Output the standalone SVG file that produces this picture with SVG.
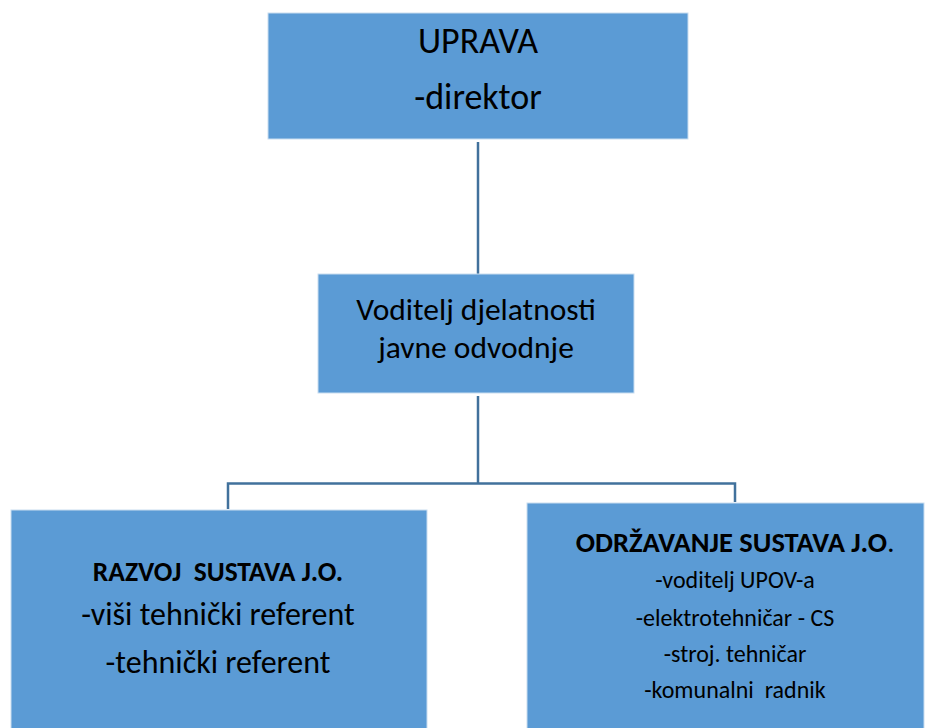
<svg xmlns="http://www.w3.org/2000/svg" width="927" height="728" viewBox="0 0 927 728">
<style>
.box{fill:#5B9BD5;stroke:#C9DDF0;stroke-width:1}
.t{font-family:Carlito,Calibri,Lato,"Liberation Sans",sans-serif;fill:#000;text-anchor:middle}
.b{font-weight:bold}
.conn{fill:none;stroke:#41719C;stroke-width:2.5}
</style>
<rect width="927" height="728" fill="#fff"/>
<g id="connectors">
<path class="conn" d="M478,142 V275"/>
<path class="conn" d="M478,396 V483.5"/>
<path class="conn" d="M228,509 V483.5 H735 V502"/>
</g>
<g id="uprava">
<rect class="box" x="268" y="13" width="420" height="126"/>
<text class="t" x="478" y="53" font-size="36">UPRAVA</text>
<text class="t" x="478" y="109" font-size="36">-direktor</text>
</g>
<g id="voditelj">
<rect class="box" x="318" y="274" width="316" height="119"/>
<text class="t" x="476" y="320" font-size="31.5">Voditelj djelatnosti</text>
<text class="t" x="476" y="358" font-size="31.5">javne odvodnje</text>
</g>
<g id="razvoj">
<rect class="box" x="11" y="510" width="416" height="230"/>
<text class="t b" x="218" y="581" font-size="27.5" xml:space="preserve">RAZVOJ  SUSTAVA J.O.</text>
<text class="t" x="218" y="625" font-size="32">-viši tehnički referent</text>
<text class="t" x="218" y="673" font-size="32">-tehnički referent</text>
</g>
<g id="odrzavanje">
<rect class="box" x="527" y="503" width="397" height="240"/>
<text class="t" x="735" y="552" font-size="28.5"><tspan class="b">ODRŽAVANJE SUSTAVA J.O</tspan>.</text>
<text class="t" x="735" y="588" font-size="24">-voditelj UPOV-a</text>
<text class="t" x="735" y="626" font-size="24">-elektrotehničar - CS</text>
<text class="t" x="735" y="662" font-size="24">-stroj. tehničar</text>
<text class="t" x="735" y="698" font-size="24" xml:space="preserve">-komunalni  radnik</text>
</g>
</svg>
